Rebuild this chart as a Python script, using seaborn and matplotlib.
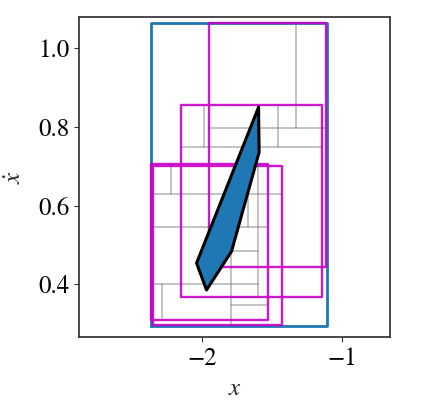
import numpy as np
import pandas as pd
import matplotlib
matplotlib.use("Agg")
import matplotlib.pyplot as plt
import seaborn as sns

# ---- data ----
# outer (blue) box: x0, x1, y0, y1
outer_box = [-2.361, -1.111, 0.295, 1.062]

# magenta boxes
mag_x0 = [-1.948, -2.147, -2.363, -2.344]
mag_x1 = [-1.118, -1.142, -1.526, -1.429]
mag_y0 = [0.443, 0.369, 0.310, 0.297]
mag_y1 = [1.062, 0.854, 0.704, 0.701]

# gray partition segments
gray_x0 = [-1.331, -1.948, -2.147, -1.982, -1.459, -2.361, -2.361, -2.218,
           -1.671, -1.600, -1.792, -1.929, -1.929, -2.361, -2.284, -1.792, -1.792]
gray_x1 = [-1.331, -1.118, -1.142, -1.982, -1.459, -1.429, -1.526, -2.218,
           -1.671, -1.600, -1.792, -1.929, -1.600, -1.600, -2.284, -1.526, -1.600]
gray_y0 = [0.796, 0.796, 0.748, 0.748, 0.748, 0.628, 0.546, 0.628,
           0.546, 0.369, 0.297, 0.484, 0.484, 0.400, 0.314, 0.349, 0.369]
gray_y1 = [1.062, 0.796, 0.748, 0.854, 0.854, 0.628, 0.546, 0.704,
           0.704, 0.704, 0.628, 0.546, 0.484, 0.400, 0.400, 0.349, 0.369]

# reachable-set polygon (black outline, filled by blue samples)
poly_x = [-1.596, -1.592, -1.788, -1.966, -2.037, -1.596]
poly_y = [0.849, 0.735, 0.484, 0.386, 0.454, 0.849]

x_ticks = [-2, -1]
y_ticks = [0.4, 0.6, 0.8, 1.0]

# ---- style ----
sns.set_theme(style="ticks")
plt.rcParams["font.family"] = ["STIXGeneral", "DejaVu Serif"]
plt.rcParams["mathtext.fontset"] = "stix"
plt.rcParams["axes.edgecolor"] = "#333333"

fig = plt.figure(figsize=(4.23, 4.08), dpi=100)
ax = fig.add_axes([0.1868, 0.1733, 0.7352, 0.7843])

# gray partition
for x0, x1, y0, y1 in zip(gray_x0, gray_x1, gray_y0, gray_y1):
    ax.plot([x0, x1], [y0, y1], color="gray", alpha=0.6, lw=1.1, zorder=1)

# outer blue box
bx0, bx1, by0, by1 = outer_box
ax.plot([bx0, bx1, bx1, bx0, bx0], [by0, by0, by1, by1, by0],
        color="#1f77b4", lw=2.0, zorder=2)

# magenta boxes
for x0, x1, y0, y1 in zip(mag_x0, mag_x1, mag_y0, mag_y1):
    ax.plot([x0, x1, x1, x0, x0], [y0, y0, y1, y1, y0],
            color="#c800c8", lw=1.7, alpha=0.9, zorder=3)

# sample cloud (filled) + outline
ax.fill(poly_x, poly_y, color="#1f77b4", zorder=4)
df = pd.DataFrame({"x": poly_x, "y": poly_y, "o": np.arange(len(poly_x))})
sns.lineplot(data=df, x="x", y="y", sort=False, estimator=None,
             color="black", lw=2.2, ax=ax, zorder=5)

ax.set_xlim(-2.873, -0.661)
ax.set_ylim(0.266, 1.077)
ax.set_xticks(x_ticks)
ax.set_yticks(y_ticks)
ax.set_xticklabels([f"\u2212{abs(v)}" for v in x_ticks])
ax.set_yticklabels([f"{v:.1f}" for v in y_ticks])
ax.tick_params(labelsize=18, length=3.5, width=0.8, colors="#333333", labelcolor="black")
ax.set_xlabel("$x$", fontsize=18, labelpad=4)
ax.set_ylabel(r"$\dot{x}$", fontsize=18, labelpad=8)

fig.savefig("out.png", dpi=100)
